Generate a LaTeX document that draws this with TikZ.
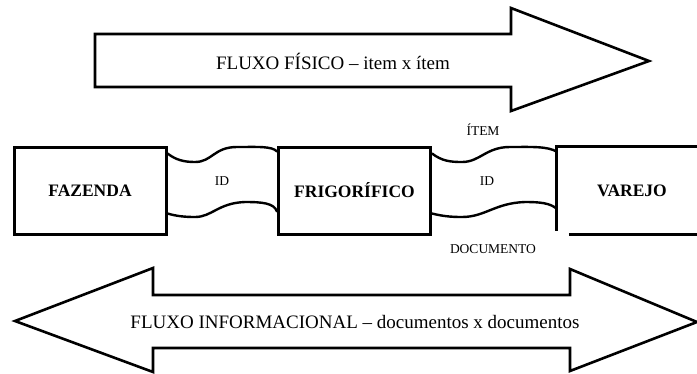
\documentclass[tikz,border=0pt]{standalone}
\usepackage{fontspec}
\setmainfont{Liberation Serif}
\usetikzlibrary{calc}
\begin{document}
\begin{tikzpicture}[x=1pt,y=-1pt,
  outline/.style={draw=black, line width=2.6pt, line join=miter},
  border/.style={draw=black, line width=3pt},
  entity/.style={border, minimum width=152pt, minimum height=87pt, inner sep=0pt,
    font=\fontsize{17.5}{20}\selectfont\bfseries},
  openentity/.style={minimum width=150pt, minimum height=87pt, inner sep=0pt,
    font=\fontsize{17.5}{20}\selectfont\bfseries},
  flowtext/.style={font=\fontsize{19}{22}\selectfont, inner sep=0pt},
  tag/.style={font=\fontsize{13.5}{16}\selectfont, inner sep=0pt},
  link/.style={draw=black, line width=2.4pt, line cap=round}]
\useasboundingbox (0,0) rectangle (697,373);

% physical flow arrow
\draw[outline] (95,34) -- (511,34) -- (511,8) -- (649,61) -- (511,111)
  -- (511,87) -- (95,87) -- cycle;
\node[flowtext] (fisico) at (333,61) {FLUXO FÍSICO -- item x ítem};

% informational flow double arrow
\draw[outline] (15,321) -- (153,268) -- (153,295) -- (570,295) -- (570,269)
  -- (697,322) -- (570,371) -- (570,348) -- (153,348) -- (153,372) -- cycle;
\node[flowtext] (info) at (355,322) {FLUXO INFORMACIONAL -- documentos x documentos};

% chain members
\node[entity] (faz) at (90,190.5) {FAZENDA};
\node[entity] (frig) at (354.5,190.5) {FRIGORÍFICO};
\node[openentity] (var) at (632,190.5) {VAREJO};
\draw[border] (var.north east) -- (var.north west) -- ($(var.south west)+(0,-3)$);
\draw[border] ($(var.south west)+(12,0)$) -- (var.south east);

% identification links between members
\draw[link] ($(faz.north east)+(0,8)$) .. controls (176,160) and (184,162) .. (195,162)
  .. controls (212,162) and (214,147) .. (237,147)
  .. controls (258,147) and (272,146) .. ($(frig.north west)+(0,6)$);
\draw[link] ($(faz.south east)+(0,-22)$) .. controls (176,216) and (184,217) .. (195,217)
  .. controls (212,217) and (218,203) .. (245,202)
  .. controls (262,202) and (274,203) .. ($(frig.south west)+(0,-24)$);
\draw[link] ($(frig.north east)+(0,8)$) .. controls (442,161) and (450,162) .. (462,162)
  .. controls (480,162) and (486,147) .. (510,147)
  .. controls (530,147) and (548,146) .. ($(var.north west)+(0,5)$);
\draw[link] ($(frig.south east)+(0,-22)$) .. controls (442,216) and (450,217) .. (462,217)
  .. controls (485,217) and (495,203) .. (525,202)
  .. controls (540,202) and (550,203) .. ($(var.north west)+(0,62)$);

% labels
\node[tag] (id1) at (222,181) {ID};
\node[tag] (id2) at (487,181) {ID};
\node[tag] (item) at (483,130) {ÍTEM};
\node[tag] (doc) at (493,249) {DOCUMENTO};
\end{tikzpicture}
\end{document}
